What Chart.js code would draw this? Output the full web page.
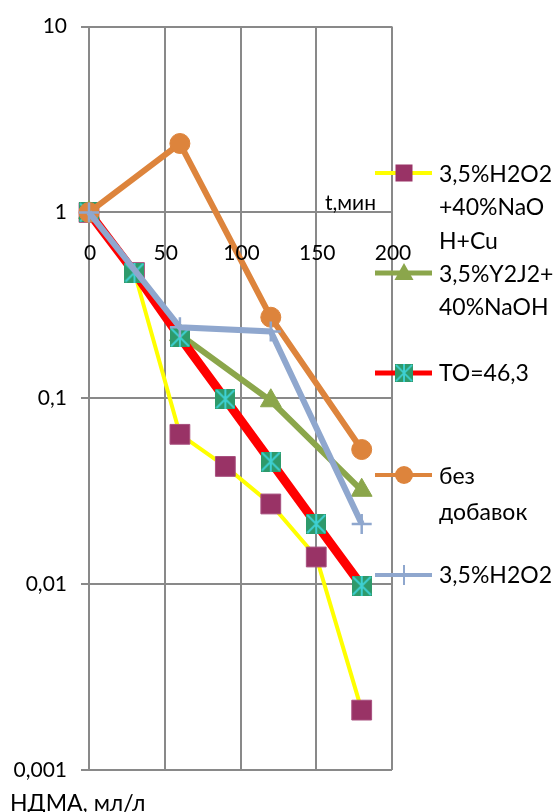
<!DOCTYPE html>
<html><head><meta charset="utf-8">
<script src="https://cdn.jsdelivr.net/npm/chart.js@4.4.0/dist/chart.umd.min.js"></script>
<style>html,body{margin:0;padding:0;background:#fff;overflow:hidden}</style>
</head><body>
<canvas id="c" width="559" height="812"></canvas>
<script>
// ---- data ----
const times = [0, 30, 60, 90, 120, 150, 180];
const h2o2NaohCu = [1, 0.475, 0.064, 0.043, 0.027, 0.014, 0.0021];
const y2j2Naoh   = [1, null, 0.22, null, 0.097, null, 0.032];
const to463      = [1, 0.475, 0.213, 0.099, 0.0457, 0.0211, 0.0098];
const bezDobavok = [1, null, 2.35, null, 0.273, null, 0.053];
const h2o2Only   = [1, null, 0.241, null, 0.229, null, 0.0211];
const seriesNames = ['3,5%H2O2+40%NaOH+Cu', '3,5%Y2J2+40%NaOH', 'TO=46,3', 'без добавок', '3,5%H2O2'];
const legendLines = [['3,5%H2O2', '+40%NaO', 'H+Cu'], ['3,5%Y2J2+', '40%NaOH'], ['TO=46,3'], ['без', 'добавок'], ['3,5%H2O2']];
const xTicks = [0, 50, 100, 150, 200];
const yTickValues = [0.001, 0.01, 0.1, 1, 10];
const yTickLabels = ['0,001', '0,01', '0,1', '1', '10'];
const xTitle = 't,мин';
const yTitle = 'НДМА, мл/л';

const FONT = "Lato, 'Open Sans', 'Noto Sans', sans-serif";
const GRID = '#898989';

const toMarker = (() => {
  const c = document.createElement('canvas'); c.width = 20; c.height = 20;
  const g = c.getContext('2d');
  g.fillStyle = '#2E9A6B'; g.fillRect(0, 0, 20, 20);
  g.strokeStyle = '#3ED0D2'; g.lineWidth = 2;
  g.beginPath(); g.moveTo(1, 1); g.lineTo(19, 19); g.moveTo(19, 1); g.lineTo(1, 19);
  g.moveTo(10, 0); g.lineTo(10, 20); g.stroke();
  return c;
})();

function pts(vals) {
  return times.map((t, i) => ({ x: t, y: vals[i] })).filter(p => p.y !== null);
}

const styles = [
  { line: '#FFFF00', lw: 4, ps: 'rect', r: 14, fill: '#993366', stroke: '#A8507F', bw: 1, order: 5, legendLw: 4 },
  { line: '#8BA64B', lw: 6, ps: 'triangle', r: 12, fill: '#8BA64B', stroke: '#8BA64B', bw: 1, order: 4, legendLw: 5 },
  { line: '#FF0000', lw: 9, ps: toMarker, r: 10, fill: '#2E9A6B', stroke: '#2E9A6B', bw: 0, order: 3, legendLw: 5 },
  { line: '#DD843C', lw: 6, ps: 'circle', r: 10, fill: '#DD843C', stroke: '#DD843C', bw: 1, order: 2, legendLw: 4 },
  { line: '#8FA7CE', lw: 6, ps: 'cross', r: 10, fill: '#8FA7CE', stroke: '#8FA7CE', bw: 2.5, order: 1, legendLw: 4 }
];
const seriesData = [h2o2NaohCu, y2j2Naoh, to463, bezDobavok, h2o2Only];

const datasets = seriesData.map((vals, i) => ({
  label: seriesNames[i],
  data: pts(vals),
  borderColor: styles[i].line,
  backgroundColor: styles[i].line,
  borderWidth: styles[i].lw,
  pointStyle: styles[i].ps,
  pointRadius: styles[i].r,
  pointBackgroundColor: styles[i].fill,
  pointBorderColor: styles[i].stroke,
  pointBorderWidth: styles[i].bw,
  order: styles[i].order,
  clip: false,
  tension: 0,
  spanGaps: true
}));

function drawLegendMarker(ctx, s, x, y) {
  ctx.save();
  ctx.fillStyle = s.fill; ctx.strokeStyle = s.stroke;
  if (s.ps === 'rect') {
    ctx.fillRect(x - 8.5, y - 8.5, 17, 17);
  } else if (s.ps === 'triangle') {
    ctx.beginPath(); ctx.moveTo(x, y - 10); ctx.lineTo(x + 9.5, y + 7); ctx.lineTo(x - 9.5, y + 7); ctx.closePath(); ctx.fill();
  } else if (s.ps === 'circle') {
    ctx.beginPath(); ctx.arc(x, y, 9, 0, Math.PI * 2); ctx.fill();
  } else if (s.ps === 'cross') {
    ctx.lineWidth = 2; ctx.beginPath(); ctx.moveTo(x - 10, y); ctx.lineTo(x + 10, y); ctx.moveTo(x, y - 10); ctx.lineTo(x, y + 10); ctx.stroke();
  } else {
    ctx.drawImage(s.ps, x - 9, y - 9, 18, 18);
  }
  ctx.restore();
}

const legendLayout = [
  { lineY: 173, textY: [175, 208, 242] },
  { lineY: 273, textY: [275, 308] },
  { lineY: 373, textY: [374] },
  { lineY: 475, textY: [477, 513] },
  { lineY: 575, textY: [576] }
];

const extras = {
  id: 'extras',
  afterDraw(chart) {
    const ctx = chart.ctx;
    const xs = chart.scales.x;
    const y1 = chart.scales.y.getPixelForValue(1);
    ctx.save();
    ctx.fillStyle = '#000';
    ctx.textBaseline = 'middle';
    // x tick labels under the axis crossing at y = 1
    ctx.font = '21px ' + FONT;
    ctx.textAlign = 'center';
    xTicks.forEach(v => ctx.fillText(String(v), xs.getPixelForValue(v) + 1, y1 + 41));
    // legend
    ctx.font = '23px ' + FONT;
    legendLayout.forEach((L, i) => {
      const s = styles[i];
      ctx.strokeStyle = s.line; ctx.lineWidth = s.legendLw;
      ctx.beginPath(); ctx.moveTo(375, L.lineY); ctx.lineTo(432, L.lineY); ctx.stroke();
      drawLegendMarker(ctx, s, 404, L.lineY);
      ctx.fillStyle = '#000';
      legendLines[i].forEach((t, k) => { ctx.textAlign = 'left'; ctx.fillText(t, 439, L.textY[k]); });
    });
    ctx.textAlign = 'right';
    ctx.font = '21px ' + FONT;
    ctx.fillText(xTitle, 376, y1 - 9);
    ctx.textAlign = 'left';
    ctx.textBaseline = 'alphabetic';
    ctx.font = '23px ' + FONT;
    ctx.fillText(yTitle, 10, 811);
    ctx.restore();
  }
};

new Chart(document.getElementById('c'), {
  type: 'line',
  data: { datasets },
  plugins: [extras],
  options: {
    responsive: false,
    devicePixelRatio: 1,
    animation: false,
    events: [],
    layout: { padding: { left: 0, right: 167, top: 22, bottom: 42 } },
    plugins: { legend: { display: false }, tooltip: { enabled: false } },
    scales: {
      x: {
        type: 'linear',
        position: { y: 1 },
        min: 0, max: 200,
        afterBuildTicks(scale) { scale.ticks = xTicks.map(v => ({ value: v })); },
        ticks: { display: false },
        grid: { color: GRID, lineWidth: 2, drawTicks: false },
        border: { color: GRID, width: 2 }
      },
      y: {
        type: 'logarithmic',
        min: 0.001, max: 10,
        afterBuildTicks(scale) { scale.ticks = yTickValues.map(v => ({ value: v })); },
        afterFit(scale) { scale.width = 89; },
        ticks: {
          font: { family: FONT, size: 21 }, color: '#000', padding: 14, autoSkip: false,
          callback(v) { const i = yTickValues.findIndex(t => Math.abs(t - v) / t < 1e-6); return i >= 0 ? yTickLabels[i] : ''; }
        },
        grid: { color: GRID, lineWidth: 2, tickLength: 8, tickColor: GRID },
        border: { color: GRID, width: 2 }
      }
    }
  }
});
</script>
</body></html>
